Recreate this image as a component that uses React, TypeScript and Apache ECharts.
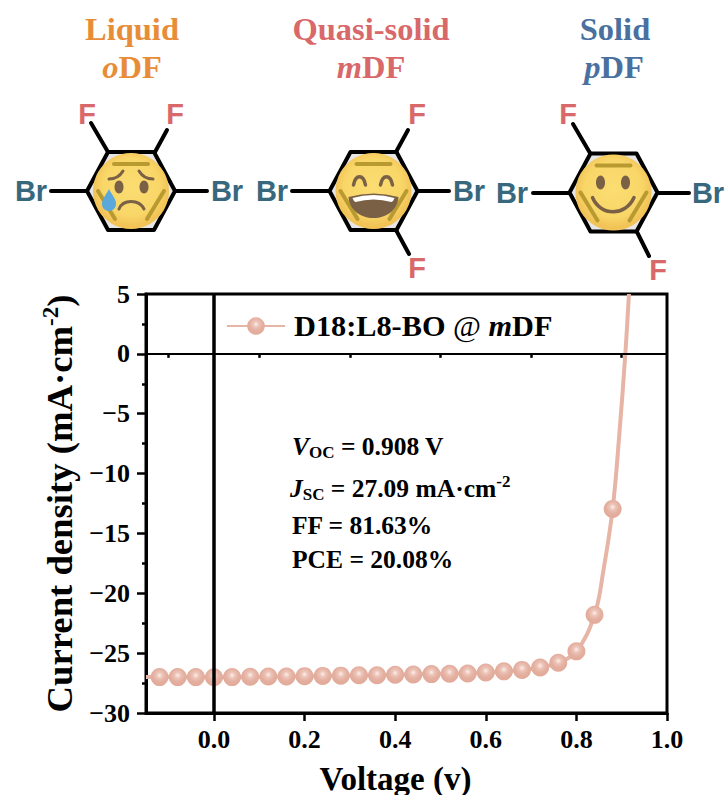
import React, { useEffect, useRef } from "react";
import * as echarts from "echarts";

const voltage = [-0.12,-0.08,-0.04,0,0.04,0.08,0.12,0.16,0.2,0.24,0.28,0.32,0.36,0.4,0.44,0.48,0.52,0.56,0.6,0.64,0.68,0.72,0.76,0.8,0.84,0.88];
const current = [-27.0,-27.0,-27.0,-27.02,-27.0,-26.97,-26.95,-26.95,-26.92,-26.9,-26.88,-26.85,-26.85,-26.8,-26.78,-26.75,-26.72,-26.7,-26.62,-26.52,-26.4,-26.2,-25.8,-24.85,-21.8,-12.95];
const curveVoltage = [-0.15,-0.12,0,0.2,0.4,0.6,0.68,0.72,0.76,0.8,0.84,0.86,0.88,0.895,0.908,0.916];
const curveCurrent = [-27.0,-27.0,-27.02,-26.92,-26.8,-26.62,-26.4,-26.2,-25.8,-24.85,-21.8,-18,-12.95,-6.6,0,5];
const xMajorTicks = [0,0.2,0.4,0.6,0.8,1];
const xMinorTicks = [-0.1,0.1,0.3,0.5,0.7,0.9];
const seriesName = "D18:L8-BO @ mDF";

const SERIF = "Liberation Serif";
const SANS = "Liberation Sans";
const BROWN = "#7A6045";
const OLIVE = "#B99A30";

echarts.graphic.registerShape("tear", echarts.graphic.extendPath("M0,-12 C2,-7 7,-3 7,3 C7,7 4,10 0,10 C-4,10 -7,7 -7,3 C-7,-3 -2,-7 0,-12 Z", {}));
echarts.graphic.registerShape("laugh", echarts.graphic.extendPath("M-25,6 Q0,-1 25,6 C24,19 13,27 0,27 C-13,27 -24,19 -25,6 Z", {}));
echarts.graphic.registerShape("teeth", echarts.graphic.extendPath("M-21,7 Q0,1 21,7 Q20,10 18,11 Q0,6 -18,11 Q-20,10 -21,7 Z", {}));

const ln = (x1: number, y1: number, x2: number, y2: number, stroke: string, lineWidth: number) => ({
  type: "line", shape: { x1, y1, x2, y2 }, style: { stroke, lineWidth, lineCap: "round" },
});
const curve = (x1: number, y1: number, cpx1: number, cpy1: number, cpx2: number, cpy2: number, x2: number, y2: number, stroke: string, lineWidth: number) => ({
  type: "bezierCurve", shape: { x1, y1, cpx1, cpy1, cpx2, cpy2, x2, y2 }, style: { stroke, lineWidth, lineCap: "round", fill: "none" },
});
const label = (text: string, x: number, y: number, fill: string) => ({
  type: "text", x, y, style: { text, fill, font: `bold 29px '${SANS}'`, textAlign: "center", textVerticalAlign: "middle" },
});
const title = (text: string, x: number, y: number, fill: string, rich?: boolean) => ({
  type: "text", x, y,
  style: {
    text, fill, font: `bold 32.5px '${SERIF}'`, textAlign: "center", textVerticalAlign: "middle",
    rich: rich ? {
      i: { fontFamily: SERIF, fontSize: 32.5, fontWeight: "bold", fontStyle: "italic", fill },
      b: { fontFamily: SERIF, fontSize: 32.5, fontWeight: "bold", fill },
    } : undefined,
  },
});

const hexFace = (cx: number, cy: number, features: any[]) => ({
  type: "group", x: cx, y: cy,
  children: [
    { type: "polygon", shape: { points: [[-23,-39],[23,-39],[44,0],[23,39],[-23,39],[-44,0]] }, style: { fill: "#E6E6E6", stroke: "#000", lineWidth: 4, lineJoin: "round" } },
    { type: "circle", shape: { cx: 0, cy: 0, r: 38 }, style: { fill: { type: "radial", x: 0.5, y: 0.45, r: 0.5, colorStops: [{ offset: 0, color: "#FBDD72" }, { offset: 0.75, color: "#F9D668" }, { offset: 1, color: "#F2C458" }] } } },
    ln(-17, -27, 17, -27, OLIVE, 4),
    ln(-33, 0, -16, 28, OLIVE, 4),
    ln(33, 0, 16, 28, OLIVE, 4),
    ...features,
  ],
});

const graphicElements = [
  title("Liquid", 132, 29, "#E88D37"),
  title("{i|o}{b|DF}", 132, 67, "#E88D37", true),
  title("Quasi-solid", 371, 29, "#D9686A"),
  title("{i|m}{b|DF}", 371, 67, "#D9686A", true),
  title("Solid", 615, 29, "#49709F"),
  title("{i|p}{b|DF}", 614, 67, "#49709F", true),

  ln(91, 123, 108, 152, "#000", 4), ln(167, 130, 155, 152, "#000", 4),
  ln(51, 191, 87, 191, "#000", 4), ln(175, 191, 207, 191, "#000", 4),
  label("F", 87, 114, "#D9686A"), label("F", 175, 114, "#D9686A"),
  label("Br", 31, 191, "#37687D"), label("Br", 227, 191, "#37687D"),
  hexFace(131, 191, [
    { type: "ellipse", shape: { cx: -12, cy: -4, rx: 4.5, ry: 6.5 }, style: { fill: BROWN } },
    { type: "ellipse", shape: { cx: 13, cy: -4, rx: 4.5, ry: 6.5 }, style: { fill: BROWN } },
    curve(-22, -12, -16, -12, -11, -15, -8, -20, BROWN, 3),
    curve(22, -12, 16, -12, 11, -15, 8, -20, BROWN, 3),
    curve(-12, 18, -8, 8, 8, 8, 13, 18, BROWN, 3),
    { type: "tear", x: -22, y: 10, style: { fill: "#5BA8DC" } },
  ]),

  ln(396, 152, 408, 130, "#000", 4), ln(396, 230, 409, 254, "#000", 4),
  ln(292, 191, 328, 191, "#000", 4), ln(417, 191, 449, 191, "#000", 4),
  label("F", 417, 114, "#D9686A"), label("F", 417, 268, "#D9686A"),
  label("Br", 272, 191, "#37687D"), label("Br", 469, 191, "#37687D"),
  hexFace(373.5, 191, [
    curve(-20, -6, -18, -17, -10, -17, -8, -6, BROWN, 3.5),
    curve(7, -6, 9, -17, 17, -17, 19, -6, BROWN, 3.5),
    { type: "laugh", style: { fill: BROWN } },
    { type: "teeth", style: { fill: "#FFFFFF" } },
  ]),

  ln(573, 124, 590, 153, "#000", 4), ln(637, 232, 649, 256, "#000", 4),
  ln(533, 193, 569, 193, "#000", 4), ln(658, 193, 689, 193, "#000", 4),
  label("F", 568, 114, "#D9686A"), label("F", 658, 270, "#D9686A"),
  label("Br", 512, 193, "#37687D"), label("Br", 708, 193, "#37687D"),
  hexFace(613.5, 192.5, [
    { type: "ellipse", shape: { cx: -13, cy: -10, rx: 4.5, ry: 7 }, style: { fill: BROWN } },
    { type: "ellipse", shape: { cx: 12, cy: -10, rx: 4.5, ry: 7 }, style: { fill: BROWN } },
    curve(-21, 5, -13, 24, 12, 24, 20.5, 5, BROWN, 3.5),
  ]),

  {
    type: "text", x: 292, y: 446,
    style: {
      text: "{vi|V}{sub|OC}{b| = 0.908 V}",
      textVerticalAlign: "middle",
      rich: {
        vi: { fontFamily: SERIF, fontSize: 25.5, fontWeight: "bold", fontStyle: "italic", fill: "#000" },
        sub: { fontFamily: SERIF, fontSize: 17, fontWeight: "bold", fill: "#000", verticalAlign: "bottom", lineHeight: 30 },
        b: { fontFamily: SERIF, fontSize: 25.5, fontWeight: "bold", fill: "#000" },
      },
    },
  },
  {
    type: "text", x: 290, y: 488,
    style: {
      text: "{vi|J}{sub|SC}{b| = 27.09 mA·cm}{sup|-2}",
      textVerticalAlign: "middle",
      rich: {
        vi: { fontFamily: SERIF, fontSize: 25.5, fontWeight: "bold", fontStyle: "italic", fill: "#000" },
        sub: { fontFamily: SERIF, fontSize: 17, fontWeight: "bold", fill: "#000", verticalAlign: "bottom", lineHeight: 30 },
        sup: { fontFamily: SERIF, fontSize: 17, fontWeight: "bold", fill: "#000", verticalAlign: "top", lineHeight: 30 },
        b: { fontFamily: SERIF, fontSize: 25.5, fontWeight: "bold", fill: "#000" },
      },
    },
  },
  { type: "text", x: 292, y: 525, style: { text: "FF = 81.63%", fill: "#000", font: `bold 25.5px '${SERIF}'`, textVerticalAlign: "middle" } },
  { type: "text", x: 292, y: 559, style: { text: "PCE = 20.08%", fill: "#000", font: `bold 25.5px '${SERIF}'`, textVerticalAlign: "middle" } },
];

const sphere = {
  type: "radial", x: 0.5, y: 0.4, r: 0.55,
  colorStops: [{ offset: 0, color: "#FBEFEA" }, { offset: 0.3, color: "#EDC4B8" }, { offset: 0.65, color: "#E4B0A1" }, { offset: 1, color: "#E2AA99" }],
};
const LINE = "#E6B5A6";
const axisText = { color: "#000", fontFamily: SERIF, fontWeight: "bold", fontSize: 26 };
const axisStroke = { show: true, onZero: false, lineStyle: { color: "#000", width: 3 } };

function buildOption(): any {
  return {
    animation: false,
    backgroundColor: "#fff",
    grid: { left: 146, right: 59, top: 294, bottom: 82, show: true, borderColor: "#000", borderWidth: 3, backgroundColor: "transparent", outerBoundsMode: "none" },
    legend: {
      left: 226, top: 311, padding: 0, itemWidth: 58, itemHeight: 22,
      data: [seriesName],
      formatter: () => "{s|}{b|D18:L8-BO }{r|@ }{i|m}{b|DF}",
      textStyle: {
        rich: {
          s: { width: 4 },
          b: { fontFamily: SERIF, fontSize: 30.3, fontWeight: "bold", color: "#000" },
          r: { fontFamily: SERIF, fontSize: 30.3, color: "#000" },
          i: { fontFamily: SERIF, fontSize: 30.3, fontWeight: "bold", fontStyle: "italic", color: "#000" },
        },
      },
    },
    xAxis: [
      {
        type: "value", min: -0.15, max: 1, position: "bottom",
        name: "Voltage (v)", nameLocation: "middle", nameGap: 49,
        nameTextStyle: { color: "#000", fontFamily: SERIF, fontWeight: "bold", fontSize: 33, padding: [0, 22, 0, 0] },
        axisLine: axisStroke,
        axisTick: { show: true, length: 8, customValues: xMajorTicks, lineStyle: { color: "#000", width: 2.5 } },
        axisLabel: { ...axisText, margin: 13, customValues: xMajorTicks, formatter: (v: number) => v.toFixed(1) },
        splitLine: { show: false },
      },
      {
        type: "value", min: -0.15, max: 1, position: "bottom",
        axisLine: { show: false },
        axisTick: { show: true, length: 4, customValues: xMinorTicks, lineStyle: { color: "#000", width: 2.5 } },
        axisLabel: { show: false },
        splitLine: { show: false },
      },
    ],
    yAxis: {
      type: "value", min: -30, max: 5, interval: 5,
      name: "{b|Current density (mA·cm}{s|-2}{b|)}",
      nameLocation: "middle", nameGap: 61,
      nameTextStyle: {
        rich: {
          b: { fontFamily: SERIF, fontWeight: "bold", fontSize: 36.7, color: "#000" },
          s: { fontFamily: SERIF, fontWeight: "bold", fontSize: 23, color: "#000", verticalAlign: "top", lineHeight: 42 },
        },
      },
      axisLine: axisStroke,
      axisTick: { show: true, length: 9, lineStyle: { color: "#000", width: 2.5 } },
      minorTick: { show: true, splitNumber: 2, length: 4, lineStyle: { color: "#000", width: 2.5 } },
      axisLabel: { ...axisText, margin: 16, formatter: (v: number) => String(v).replace("-", "\u2212") },
      splitLine: { show: false },
    },
    series: [
      {
        name: seriesName, type: "line", xAxisIndex: 0, yAxisIndex: 0,
        data: curveVoltage.map((v, i) => [v, curveCurrent[i]]),
        smooth: 0.4, symbol: "circle", showSymbol: false,
        lineStyle: { color: LINE, width: 4 }, itemStyle: { color: sphere }, z: 2,
      },
      {
        name: "markers", type: "line", xAxisIndex: 0, yAxisIndex: 0,
        data: voltage.map((v, i) => [v, current[i]]),
        symbol: "circle", symbolSize: 18, showAllSymbol: true,
        lineStyle: { width: 0, opacity: 0 }, itemStyle: { color: sphere, opacity: 1 }, z: 3,
      },
      {
        name: "reference", type: "line", xAxisIndex: 0, yAxisIndex: 0, data: [], z: 5,
        markLine: {
          silent: true, symbol: "none", label: { show: false }, animation: false, z: 5,
          data: [
            { yAxis: 0, lineStyle: { color: "#000", width: 2, type: "solid" } },
            { xAxis: 0, lineStyle: { color: "#000", width: 3.5, type: "solid" } },
          ],
        },
      },
    ],
    graphic: { elements: graphicElements },
  };
}

export default function App() {
  const ref = useRef<HTMLDivElement>(null);
  useEffect(() => {
    document.body.style.margin = "0";
    const chart = echarts.init(ref.current!, undefined, { renderer: "svg" });
    chart.setOption(buildOption());
    return () => chart.dispose();
  }, []);
  return <div ref={ref} style={{ width: 726, height: 795 }} />;
}
